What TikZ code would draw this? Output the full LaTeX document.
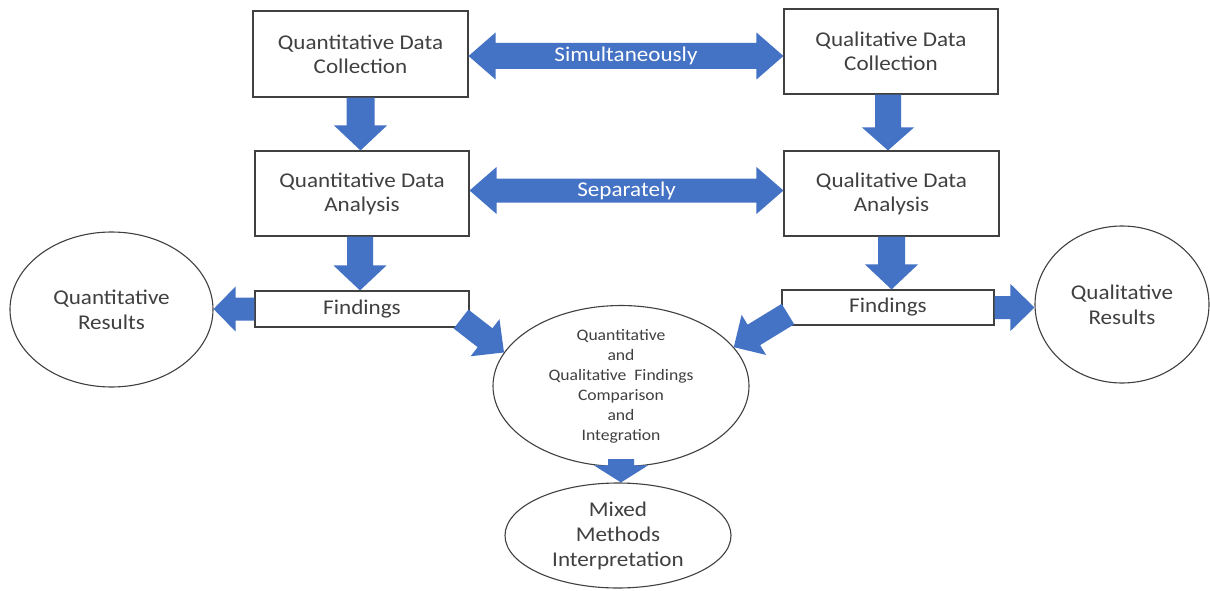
\documentclass[tikz,border=0pt]{standalone}
\usepackage{fontspec}
\setmainfont{Carlito}[FakeStretch=1.1]
\usetikzlibrary{calc,shapes.geometric}
\definecolor{arrowblue}{HTML}{4472C4}
\definecolor{inkgray}{HTML}{404040}

% block arrow: tail, tip, shaft half-width, head half-width, head length
\newcommand\blockarrow[5]{%
  \path ($(#2)!#5!(#1)$) coordinate (ba-base);
  \fill[blockfill] ($(#1)!#3!90:(#2)$) -- ($(ba-base)!#3!-90:(#1)$)
    -- ($(ba-base)!#4!-90:(#1)$) -- (#2) -- ($(ba-base)!#4!90:(#1)$)
    -- ($(ba-base)!#3!90:(#1)$) -- ($(#1)!#3!-90:(#2)$) -- cycle;
}
% double-headed block arrow: tip one, tip two, shaft half-width, head half-width, head length
\newcommand\dblarrow[5]{%
  \path ($(#1)!#5!(#2)$) coordinate (da-a) ($(#2)!#5!(#1)$) coordinate (da-b);
  \fill[blockfill] (#1) -- ($(da-a)!#4!90:(#2)$) -- ($(da-a)!#3!90:(#2)$)
    -- ($(da-b)!#3!-90:(#1)$) -- ($(da-b)!#4!-90:(#1)$) -- (#2)
    -- ($(da-b)!#4!90:(#1)$) -- ($(da-b)!#3!90:(#1)$)
    -- ($(da-a)!#3!-90:(#2)$) -- ($(da-a)!#4!-90:(#2)$) -- cycle;
}

\begin{document}
\begin{tikzpicture}[x=1pt,y=-1pt,
  every node/.style={text=inkgray},
  box/.style={draw=inkgray, line width=1.1pt, fill=white, inner sep=0pt,
    align=center, font=\fontsize{21}{24}\selectfont},
  oval/.style={ellipse, draw=inkgray, line width=1.1pt, fill=white,
    inner sep=0pt, align=center},
  bigtext/.style={font=\fontsize{21}{25}\selectfont},
  smalltext/.style={font=\fontsize{16}{20}\selectfont},
  arrowlabel/.style={text=white, inner sep=0pt, font=\fontsize{21}{24}\selectfont},
  blockfill/.style={fill=arrowblue}
]
\fill[white] (0,0) rectangle (1210,591);
\useasboundingbox (0,0) rectangle (1210,591);

% data collection and analysis boxes
\node[box, minimum width=215pt, minimum height=86pt] (qnc) at (360.5,54)
  {Quantitative Data\\Collection};
\node[box, minimum width=214pt, minimum height=85pt] (qlc) at (891,51.5)
  {Qualitative Data\\Collection};
\node[box, minimum width=214pt, minimum height=85pt] (qna) at (362,193.5)
  {Quantitative Data\\Analysis};
\node[box, minimum width=215pt, minimum height=85pt] (qla) at (891.5,193.5)
  {Qualitative Data\\Analysis};

% findings boxes
\node[box, minimum width=214pt, minimum height=36pt] (fnl) at (362,309) {Findings};
\node[box, minimum width=212pt, minimum height=35pt] (fnr) at (888,307.5) {Findings};

% result ovals
\node[oval, bigtext, minimum width=203pt, minimum height=155pt] (qnr) at (111.5,309.5)
  {Quantitative\\Results};
\node[oval, bigtext, minimum width=174pt, minimum height=157pt] (qlr) at (1122,304.5)
  {Qualitative\\Results};

% comparison and interpretation
\node[oval, smalltext, minimum width=256pt, minimum height=150pt] (cen) at (621,386)
  {Quantitative\\and\\Qualitative\hspace{0.25em} Findings\\Comparison\\and\\Integration};
\node[oval, bigtext, minimum width=226pt, minimum height=105pt] (mix) at (618,535.5)
  {Mixed\\Methods\\Interpretation};

% arrow end points
\coordinate (simL) at ($(qnc.east)+(0,2)$);
\coordinate (simR) at (simL -| qlc.west);
\coordinate (sepL) at ($(qna.east)+(0,-3)$);
\coordinate (sepR) at (sepL -| qla.west);
\coordinate (qncTip) at (qnc.south |- qna.north);
\coordinate (qlcTail) at ($(qlc.south)+(-3,0)$);
\coordinate (qlcTip) at (qlcTail |- qla.north);
\coordinate (qnaTail) at ($(qna.south)+(-2,0)$);
\coordinate (qnaTip) at (qnaTail |- fnl.north);
\coordinate (qlaTail) at (qla.south);
\coordinate (qlaTip) at (qlaTail |- fnr.north);
\coordinate (fnlTip) at (fnl.west -| qnr.east);
\coordinate (fnrTip) at (fnr.east -| qlr.west);
\coordinate (dlTail) at ($(fnl.south east)+(-8.5,-8.5)$);
\coordinate (drTail) at ($(fnr.south west)+(6.5,-11.5)$);
\coordinate (cenTail) at ($(cen.south)+(0,-8)$);
\coordinate (cenTip) at (cen.south |- mix.north);

% horizontal double arrows
\dblarrow{simL}{simR}{13pt}{23.5pt}{27pt}
\node[arrowlabel] (simlbl) at ($(simL)!0.5!(simR)$) {Simultaneously};
\dblarrow{sepL}{sepR}{12pt}{23.5pt}{27pt}
\node[arrowlabel] (seplbl) at ($(sepL)!0.5!(sepR)$) {Separately};

% downward arrows
\blockarrow{qnc.south}{qncTip}{14pt}{26.5pt}{25pt}
\blockarrow{qlcTail}{qlcTip}{13pt}{26pt}{23pt}
\blockarrow{qnaTail}{qnaTip}{13pt}{26.5pt}{25pt}
\blockarrow{qlaTail}{qlaTip}{13.5pt}{26.5pt}{25pt}

% findings to results
\blockarrow{fnl.west}{fnlTip}{11.5pt}{22.5pt}{22pt}
\blockarrow{fnr.east}{fnrTip}{11.5pt}{23.5pt}{24pt}

% findings to comparison
\blockarrow{dlTail}{cen.164}{12pt}{23.5pt}{24pt}
\blockarrow{drTail}{cen.19}{12pt}{23.5pt}{23.5pt}

% comparison to interpretation
\blockarrow{cenTail}{cenTip}{13pt}{27pt}{17pt}
\end{tikzpicture}
\end{document}
